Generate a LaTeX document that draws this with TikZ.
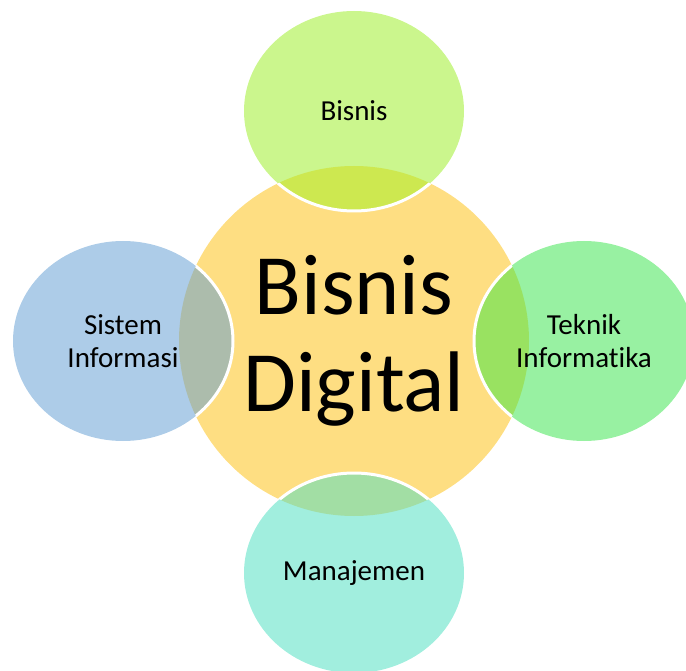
\documentclass[tikz,border=0pt]{standalone}
\usepackage{fontspec}
\setmainfont[Ligatures=NoCommon]{Carlito}
\usepackage{tikz}
\definecolor{hubYellow}{RGB}{254,222,130}
\definecolor{bisnisGreen}{RGB}{203,246,141}
\definecolor{bisnisMix}{RGB}{205,232,80}
\definecolor{siBlue}{RGB}{173,204,232}
\definecolor{siMix}{RGB}{172,188,172}
\definecolor{tiGreen}{RGB}{152,241,162}
\definecolor{tiMix}{RGB}{153,226,97}
\definecolor{manTeal}{RGB}{161,238,222}
\definecolor{manMix}{RGB}{162,222,164}

\begin{document}
\begin{tikzpicture}[x=1pt, y=-1pt,
        small/.style={font=\fontsize{29}{33}\selectfont, align=center},
        big/.style={font=\fontsize{86}{97}\selectfont, align=center}]
        \useasboundingbox (0,0) rectangle (686,671);
        \coordinate (hub) at (354,341);
        \coordinate (top) at (354,111);
        \coordinate (left) at (123,341);
        \coordinate (right) at (584,341);
        \coordinate (bottom) at (354,573);
        \fill[hubYellow] (hub) circle (175);
        \fill[bisnisGreen] (top) ellipse (110 and 100);
        \fill[siBlue] (left) ellipse (110 and 100);
        \fill[tiGreen] (right) ellipse (110 and 100);
        \fill[manTeal] (bottom) ellipse (110 and 100);
        % where the small circles lie on the big one
        \begin{scope}
            \clip (hub) circle (175);
            \fill[bisnisMix] (top) ellipse (110 and 100);
            \fill[siMix] (left) ellipse (110 and 100);
            \fill[tiMix] (right) ellipse (110 and 100);
            \fill[manMix] (bottom) ellipse (110 and 100);
            \draw[white, line width=3] (top) ellipse (110 and 100);
            \draw[white, line width=3] (left) ellipse (110 and 100);
            \draw[white, line width=3] (right) ellipse (110 and 100);
            \draw[white, line width=3] (bottom) ellipse (110 and 100);
        \end{scope}
        \node[big] (center) at (hub) {Bisnis\\Digital};
        \node[small] (bisnis) at (top) {Bisnis};
        \node[small] (si) at (left) {Sistem\\Informasi};
        \node[small] (ti) at (right) {Teknik\\Informatika};
        \node[small] (man) at (bottom) {Manajemen};
    \end{tikzpicture}
\end{document}
